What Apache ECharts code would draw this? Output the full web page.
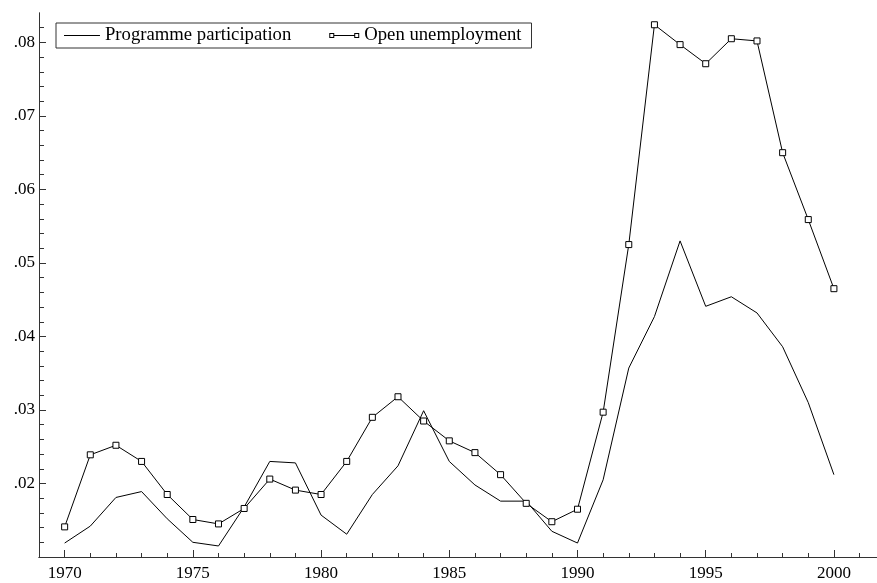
<!DOCTYPE html>
<html>
<head>
<meta charset="utf-8">
<script src="https://cdn.jsdelivr.net/npm/echarts@6/dist/echarts.min.js"></script>
<style>
html, body { margin: 0; padding: 0; background: #fff; }
#chart { width: 877px; height: 583px; }
</style>
</head>
<body>
<div id="chart"></div>
<script>
var years = [1970, 1971, 1972, 1973, 1974, 1975, 1976, 1977, 1978, 1979, 1980,
    1981, 1982, 1983, 1984, 1985, 1986, 1987, 1988, 1989, 1990,
    1991, 1992, 1993, 1994, 1995, 1996, 1997, 1998, 1999, 2000];
var programme = [0.0119, 0.0142, 0.0181, 0.0189, 0.0152, 0.0120, 0.0115, 0.0168, 0.0230, 0.0228, 0.0157,
    0.0131, 0.0185, 0.0224, 0.0299, 0.0230, 0.0198, 0.0176, 0.0176, 0.0135, 0.0119,
    0.0205, 0.0357, 0.0427, 0.0530, 0.0441, 0.0454, 0.0432, 0.0386, 0.0310, 0.0212];
var unemployment = [0.0141, 0.0239, 0.0252, 0.0230, 0.0185, 0.0151, 0.0145, 0.0166, 0.0206, 0.0191, 0.0185,
    0.0230, 0.0290, 0.0318, 0.0285, 0.0258, 0.0242, 0.0212, 0.0173, 0.0148, 0.0165,
    0.0297, 0.0525, 0.0824, 0.0797, 0.0771, 0.0805, 0.0802, 0.0650, 0.0559, 0.0465];
var xLabels = [1970, 1975, 1980, 1985, 1990, 1995, 2000];
var yLabels = [0.02, 0.03, 0.04, 0.05, 0.06, 0.07, 0.08];

var font = "'Liberation Serif', 'Times New Roman', 'DejaVu Serif', serif";
var gridBox = { left: 39, top: 13, right: 0, bottom: 26 };
var myChart = echarts.init(document.getElementById('chart'));
var option = {
    animation: false,
    grid: [gridBox, gridBox],
    legend: {
        left: 56,
        top: 23,
        padding: [3, 10, 3, 8],
        borderColor: '#333',
        borderWidth: 1,
        itemWidth: 36,
        itemHeight: 8,
        itemGap: 32,
        itemTextGap: 9,
        textStyle: { fontFamily: font, fontSize: 18.7, color: '#000' },
        itemStyle: { color: '#000', borderWidth: 0 },
        data: [
            { name: 'Programme participation', icon: 'path://M0,3.5h36v1h-36z M0,0h0.01v0.01h-0.01z M0,8h0.01v0.01h-0.01z' },
            { name: 'Open unemployment', icon: 'path://M6,1.5h5v5h-5z M7,2.5v3h3v-3z M11,3.5h20v1h-20z M31,1.5h5v5h-5z M32,2.5v3h3v-3z M0,0h0.01v0.01h-0.01z M0,8h0.01v0.01h-0.01z' }
        ]
    },
    xAxis: [
        {
            // yearly minor ticks + labels every 5 years
            type: 'value',
            gridIndex: 0,
            min: 1969,
            max: 2001.68,
            interval: 1,
            splitLine: { show: false },
            axisLine: { lineStyle: { color: '#333', width: 1 } },
            axisTick: { inside: true, length: 4, lineStyle: { color: '#333' } },
            axisLabel: {
                margin: 8,
                fontFamily: font,
                fontSize: 17,
                color: '#000',
                showMinLabel: false,
                showMaxLabel: false,
                formatter: function (v) { return xLabels.indexOf(v) >= 0 ? String(v) : ''; }
            }
        },
        {
            // major ticks
            type: 'value',
            gridIndex: 1,
            min: 1969,
            max: 2001.68,
            splitLine: { show: false },
            axisLine: { show: true, lineStyle: { color: '#333', width: 1 } },
            axisTick: { show: true, inside: true, length: 7, customValues: xLabels, lineStyle: { color: '#333' } },
            axisLabel: { show: false }
        }
    ],
    yAxis: [
        {
            type: 'value',
            gridIndex: 0,
            min: 0.01,
            max: 0.084,
            interval: 0.002,
            splitLine: { show: false },
            axisLine: { show: true, lineStyle: { color: '#333', width: 1 } },
            axisTick: { show: true, inside: true, length: 5, lineStyle: { color: '#333' } },
            axisLabel: {
                margin: 4,
                fontFamily: font,
                fontSize: 17,
                color: '#000',
                showMinLabel: false,
                showMaxLabel: false,
                formatter: function (v) {
                    var r = Math.round(v * 1000) / 1000;
                    return yLabels.indexOf(r) >= 0 ? r.toFixed(2).replace(/^0/, '') : '';
                }
            }
        },
        {
            type: 'value',
            gridIndex: 1,
            min: 0.01,
            max: 0.084,
            splitLine: { show: false },
            axisLine: { show: true, lineStyle: { color: '#333', width: 1 } },
            axisTick: { show: true, inside: true, length: 7, customValues: yLabels, lineStyle: { color: '#333' } },
            axisLabel: { show: false }
        }
    ],
    series: [
        {
            name: 'Programme participation',
            type: 'line',
            showSymbol: false,
            symbol: 'none',
            lineStyle: { color: '#000', width: 1 },
            itemStyle: { color: '#000' },
            data: years.map(function (y, k) { return [y, programme[k]]; })
        },
        {
            name: 'Open unemployment',
            type: 'line',
            symbol: 'rect',
            symbolSize: 6,
            lineStyle: { color: '#000', width: 1 },
            itemStyle: { color: '#fff', borderColor: '#000', borderWidth: 1 },
            data: years.map(function (y, k) { return [y, unemployment[k]]; })
        }
    ]
};
myChart.setOption(option);
</script>
</body>
</html>
